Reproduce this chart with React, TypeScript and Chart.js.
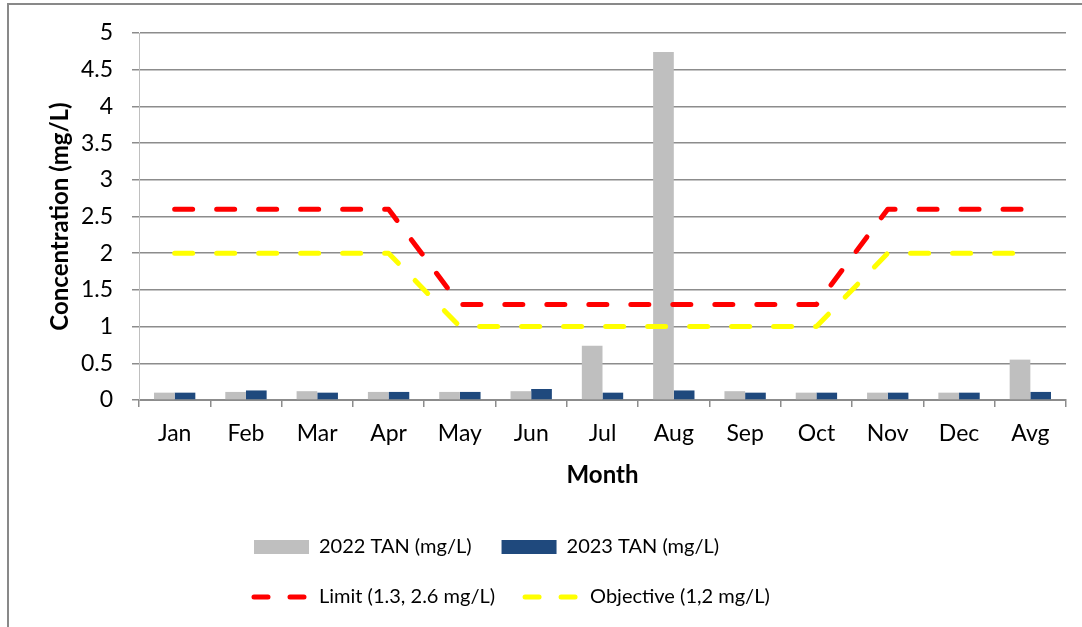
import React, { useEffect, useRef } from 'react';
import { Chart, registerables } from 'chart.js';

Chart.register(...registerables);

const months = ['Jan', 'Feb', 'Mar', 'Apr', 'May', 'Jun', 'Jul', 'Aug', 'Sep', 'Oct', 'Nov', 'Dec', 'Avg'];
const tan2022 = [0.1, 0.11, 0.12, 0.11, 0.11, 0.12, 0.74, 4.74, 0.12, 0.1, 0.1, 0.1, 0.55];
const tan2023 = [0.1, 0.13, 0.1, 0.11, 0.11, 0.15, 0.1, 0.13, 0.1, 0.1, 0.1, 0.1, 0.11];
const limit = [2.6, 2.6, 2.6, 2.6, 1.3, 1.3, 1.3, 1.3, 1.3, 1.3, 2.6, 2.6, 2.6];
const objective = [2, 2, 2, 2, 1, 1, 1, 1, 1, 1, 2, 2, 2];
const seriesNames = ['2022 TAN (mg/L)', '2023 TAN (mg/L)', 'Limit (1.3, 2.6 mg/L)', 'Objective (1,2 mg/L)'];
const yMin = 0;
const yMax = 5;
const yStep = 0.5;

const LEG_LEFT = 215;
const LEG_RIGHT = 900;

const legendBox: any = {
  id: 'legendBox',
  beforeLayout(chart: any) {
    const lg = chart.legend;
    if (!lg || lg.__patched) return;
    lg.__patched = true;
    const fit = lg.fit;
    lg.fit = function () {
      const full = this.maxWidth;
      this.maxWidth = LEG_RIGHT - LEG_LEFT;
      fit.call(this);
      this.maxWidth = full;
      this.width = full;
    };
  },
  afterLayout(chart: any) {
    const lg = chart.legend;
    if (lg) {
      lg.left = LEG_LEFT;
      lg.right = LEG_RIGHT;
    }
  },
};

export default function App() {
  const ref = useRef<HTMLCanvasElement | null>(null);

  useEffect(() => {
    if (!ref.current) return;
    Chart.defaults.font.family = 'Lato';
    Chart.defaults.font.size = 20;
    Chart.defaults.color = '#000';
    const gridColor = '#8c8c8c';
    const chart = new Chart(ref.current, {
      type: 'bar',
      data: {
        labels: months,
        datasets: [
          {
            type: 'bar',
            label: seriesNames[0],
            data: tan2022,
            backgroundColor: '#bfbfbf',
            borderWidth: 0,
            barPercentage: 1,
            categoryPercentage: 0.58,
            order: 1,
          },
          {
            type: 'bar',
            label: seriesNames[1],
            data: tan2023,
            backgroundColor: '#1f497d',
            borderWidth: 0,
            barPercentage: 1,
            categoryPercentage: 0.58,
            order: 1,
          },
          {
            type: 'line',
            label: seriesNames[2],
            data: limit,
            borderColor: '#ff0000',
            backgroundColor: '#ff0000',
            borderWidth: 5,
            borderDash: [18, 24],
            borderCapStyle: 'round',
            borderJoinStyle: 'round',
            pointRadius: 0,
            fill: false,
            tension: 0,
            order: 0,
          },
          {
            type: 'line',
            label: seriesNames[3],
            data: objective,
            borderColor: '#ffff00',
            backgroundColor: '#ffff00',
            borderWidth: 5,
            borderDash: [18, 24],
            borderCapStyle: 'round',
            borderJoinStyle: 'round',
            pointRadius: 0,
            fill: false,
            tension: 0,
            order: 0,
          },
        ] as any,
      },
      options: {
        responsive: false,
        animation: false,
        layout: { padding: { left: 9, right: 41, top: 28, bottom: 31 } },
        plugins: {
          tooltip: { enabled: false },
          legend: {
            position: 'bottom',
            align: 'start',
            labels: {
              usePointStyle: true,
              pointStyleWidth: 55,
              boxHeight: 14,
              padding: 30,
              color: '#000',
              font: { size: 20, family: 'Lato' },
              sort: (a: any, b: any) => a.datasetIndex - b.datasetIndex,
              generateLabels: (chart: any) => {
                const items = (Chart.defaults.plugins.legend.labels as any).generateLabels(chart);
                return items.map((it: any) => {
                  const ds = chart.data.datasets[it.datasetIndex];
                  if (ds.type === 'line') {
                    return { ...it, pointStyle: 'line', lineDash: [14, 22], lineWidth: 5, lineCap: 'round', strokeStyle: ds.borderColor };
                  }
                  return { ...it, pointStyle: 'rect', lineWidth: 0, fillStyle: ds.backgroundColor };
                });
              },
            },
          },
        },
        scales: {
          x: {
            offset: true,
            afterFit: (scale: any) => {
              scale.height = 107;
              scale.paddingLeft = 0;
              scale.paddingRight = 0;
            },
            grid: {
              display: true,
              offset: true,
              drawOnChartArea: false,
              drawTicks: true,
              tickLength: 7,
              color: gridColor,
              lineWidth: 1.5,
            },
            border: { display: true, color: gridColor, width: 2 },
            ticks: { padding: 13, color: '#000', maxRotation: 0, autoSkip: false, font: { size: 23 } },
            title: {
              display: true,
              text: 'Month',
              color: '#000',
              font: { size: 24, weight: 'bold' },
              padding: { top: 10, bottom: 17 },
            },
          },
          y: {
            min: yMin,
            max: yMax,
            afterFit: (scale: any) => {
              scale.width = 121;
              scale.paddingTop = 0;
              scale.paddingBottom = 0;
            },
            ticks: {
              stepSize: yStep,
              padding: 19,
              color: '#000',
              font: { size: 23 },
              callback: (v: any) => String(Number(v)),
            },
            grid: { color: gridColor, lineWidth: 1.5, tickLength: 7 },
            border: { display: true, color: '#bfbfbf', width: 1 },
            title: {
              display: true,
              text: 'Concentration (mg/L)',
              color: '#000',
              font: { size: 24, weight: 'bold' },
              padding: { top: 28, bottom: 6 },
            },
          },
        },
      } as any,
      plugins: [legendBox],
    });
    return () => chart.destroy();
  }, []);

  return (
    <div style={{ position: 'fixed', left: 0, top: 0, width: 1082, height: 627, overflow: 'hidden', background: '#fff' }}>
      <div
        style={{
          position: 'absolute',
          left: 7,
          top: 3,
          width: 1100,
          height: 645,
          borderLeft: '2px solid #898989',
          borderTop: '2px solid #898989',
          boxSizing: 'border-box',
        }}
      >
        <canvas ref={ref} width={1098} height={643} style={{ display: 'block', width: 1098, height: 643 }} />
      </div>
    </div>
  );
}
